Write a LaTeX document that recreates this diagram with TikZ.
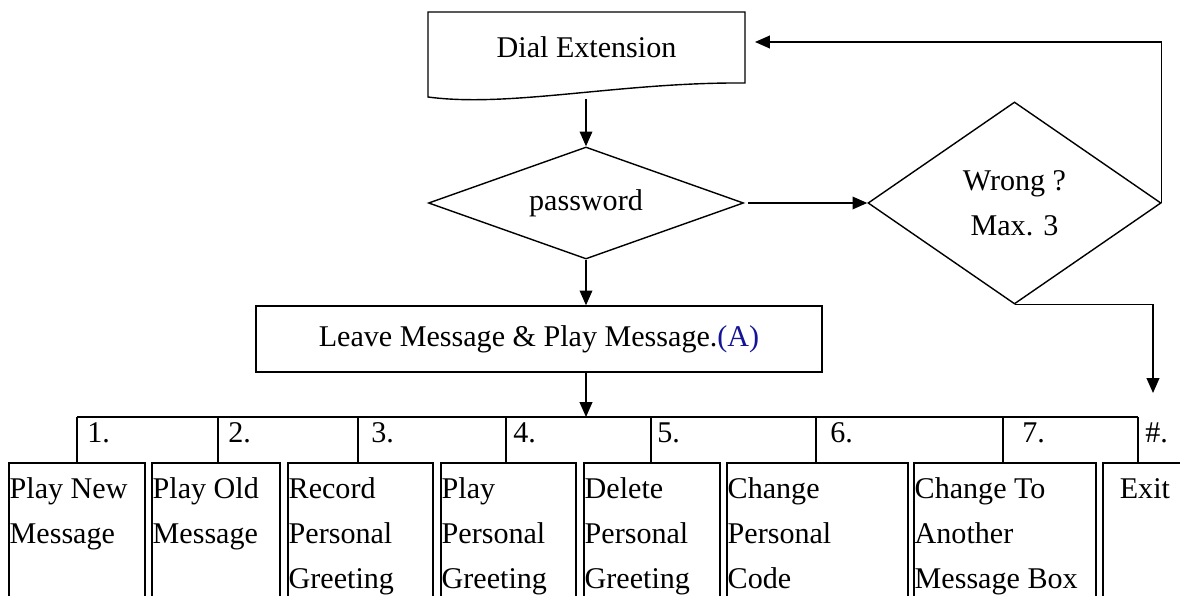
\documentclass[tikz,border=0pt]{standalone}
\usepackage{fontspec}
\setmainfont{Liberation Serif}
\usepackage{xcolor}
\usepackage{tikz}
\usetikzlibrary{shapes.geometric, arrows.meta, positioning, calc}

\definecolor{msgblue}{RGB}{20,20,150}

\tikzset{
    flow/.style={line width=1pt, -{Triangle[length=10.5pt, width=9pt]}},
    decision/.style={diamond, draw, line width=1pt, inner sep=0pt, align=center},
    optbox/.style={draw, line width=1.3pt, anchor=north west, minimum height=4.5cm, inner sep=0pt},
    opttext/.style={anchor=north west, align=left, inner xsep=1pt, inner ysep=3.2pt},
    optnum/.style={anchor=base west, inner sep=0pt}
}

\begin{document}
\begin{tikzpicture}[x=0.025cm, y=-0.025cm, font=\fontsize{21.4}{32}\selectfont]
        \useasboundingbox (0,0) rectangle (1180,596);
        \clip (0,0) rectangle (1180,596);

        % --- Dial Extension (document shape) ---
        \draw[line width=1pt] (428,12) -- (745,12) -- (745,83)
            .. controls (620,82) and (510,108) .. (428,97) -- cycle;
        \node (dial) at (586.5,47.5) {Dial Extension};
        \coordinate (dialout) at (586,99);
        \coordinate (dialin) at (755,42);

        % --- Decisions ---
        \node[decision, aspect=2.8, minimum width=7.875cm, minimum height=2.8cm] (pwd) at (586,203) {password};
        \node[decision, aspect=1.45, minimum width=7.325cm, minimum height=5.05cm] (wrong) at (1014.5,203) {Wrong ?\\Max. 3};
        \coordinate (exitin) at (1153,393);

        % --- Main menu ---
        \node[draw, line width=1pt, minimum width=14.15cm, minimum height=1.65cm] (leave) at (539,339)
            {Leave Message \& Play Message.\textcolor{msgblue}{(A)}};

        % --- Option bar ---
        \coordinate (bar) at (586,417);
        \coordinate (k1) at (77,417);
        \coordinate (k2) at (218,417);
        \coordinate (k3) at (358,417);
        \coordinate (k4) at (506,417);
        \coordinate (k5) at (651,417);
        \coordinate (k6) at (816,417);
        \coordinate (k7) at (1003,417);
        \coordinate (k8) at (1138,417);
        \node[optnum] (n1) at (87,443) {1.};
        \node[optnum] (n2) at (228,443) {2.};
        \node[optnum] (n3) at (371,443) {3.};
        \node[optnum] (n4) at (513,443) {4.};
        \node[optnum] (n5) at (657,443) {5.};
        \node[optnum] (n6) at (830,443) {6.};
        \node[optnum] (n7) at (1022,443) {7.};
        \node[optnum] (n8) at (1145,443) {\#.};

        % --- Option boxes ---
        \node[optbox, minimum width=3.4cm] (b1) at (8,462) {};
        \node[optbox, minimum width=3.2cm] (b2) at (151,462) {};
        \node[optbox, minimum width=3.625cm] (b3) at (287,462) {};
        \node[optbox, minimum width=3.375cm] (b4) at (440,462) {};
        \node[optbox, minimum width=3.4cm] (b5) at (583,462) {};
        \node[optbox, minimum width=4.525cm] (b6) at (726,462) {};
        \node[optbox, minimum width=4.55cm] (b7) at (913,462) {};
        \node[optbox, minimum width=2.1cm] (b8) at (1102,462) {};
        \node[opttext] (t1) at (b1.north west) {\strut Play New\\Message};
        \node[opttext] (t2) at (b2.north west) {\strut Play Old\\Message};
        \node[opttext] (t3) at (b3.north west) {\strut Record\\Personal\\Greeting};
        \node[opttext] (t4) at (b4.north west) {\strut Play\\Personal\\Greeting};
        \node[opttext] (t5) at (b5.north west) {\strut Delete\\Personal\\Greeting};
        \node[opttext] (t6) at (b6.north west) {\strut Change\\Personal\\Code};
        \node[opttext] (t7) at (b7.north west) {\strut Change To\\Another\\Message Box};
        \node[opttext, anchor=north] (t8) at (b8.north) {\strut Exit};

        % --- Connectors ---
        \draw[flow] (dialout) -- (pwd.north);
        \draw[flow, shorten <=3pt] (pwd.east) -- (wrong.west);
        \draw[flow] (wrong.east) |- (dialin);
        \draw[flow] (wrong.south) -| (exitin);
        \draw[flow] (pwd.south) -- (pwd.south |- leave.north);
        \draw[flow] (bar |- leave.south) -- (bar);
        \draw[line width=1pt] (k1) -- (k8);
        \draw[line width=1pt] (k1) -- (k1 |- b1.north);
        \draw[line width=1pt] (k2) -- (k2 |- b2.north);
        \draw[line width=1pt] (k3) -- (k3 |- b3.north);
        \draw[line width=1pt] (k4) -- (k4 |- b4.north);
        \draw[line width=1pt] (k5) -- (k5 |- b5.north);
        \draw[line width=1pt] (k6) -- (k6 |- b6.north);
        \draw[line width=1pt] (k7) -- (k7 |- b7.north);
        \draw[line width=1pt] (k8) -- (k8 |- b8.north);
    \end{tikzpicture}
\end{document}
